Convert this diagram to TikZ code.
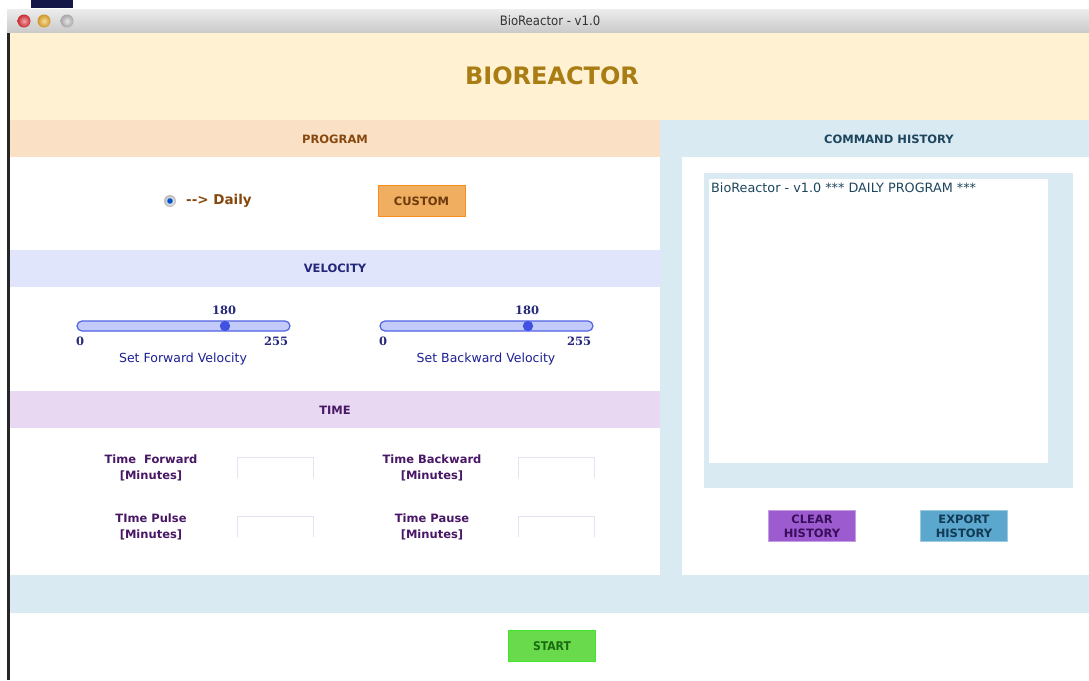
\documentclass[tikz,border=0pt]{standalone}
\usepackage{fontspec}
\setmainfont{DejaVu Sans}
\newfontfamily\numfont{DejaVu Serif}
\newfontfamily\barfont{DejaVu Sans Condensed}
\usetikzlibrary{positioning, shadings}
\definecolor{cBarTop}   {HTML}{EDEDED}
\definecolor{cBarBot}   {HTML}{C9C9C9}
\definecolor{cHeader}   {HTML}{FFF1D2}
\definecolor{cGold}     {HTML}{A97D14}
\definecolor{cProg}     {HTML}{FAE1C6}
\definecolor{cProgText} {HTML}{87480F}
\definecolor{cVel}      {HTML}{E1E5FC}
\definecolor{cVelText}  {HTML}{23277A}
\definecolor{cTime}     {HTML}{E8D8F2}
\definecolor{cTimeText} {HTML}{481765}
\definecolor{cHist}     {HTML}{DAEAF3}
\definecolor{cHistText} {HTML}{1D465E}
\definecolor{cCustom}   {HTML}{F0AE60}
\definecolor{cClear}    {HTML}{9C5CD0}
\definecolor{cClearText}{HTML}{3A0E5B}
\definecolor{cExport}   {HTML}{5BA7CD}
\definecolor{cExpText}  {HTML}{113A55}
\definecolor{cStart}    {HTML}{68DA4C}
\definecolor{cStartText}{HTML}{1C6A12}
\definecolor{cTrack}    {HTML}{C3CBFB}
\definecolor{cTrackLine}{HTML}{5263E6}
\definecolor{cThumb}    {HTML}{4152E2}
\definecolor{cFieldLine}{HTML}{E9E0F4}
\definecolor{cLightRed} {HTML}{E8343A}
\definecolor{cLightYel} {HTML}{F2B22C}
\definecolor{cLightGry} {HTML}{C4C4C4}
\tikzset{
  bandtitle/.style={font=\fontsize{11.5}{13}\selectfont\bfseries, inner sep=0pt},
  uibutton/.style={minimum width=87pt, minimum height=31pt, inner sep=0pt,
                   line width=0.8pt, align=center,
                   font=\fontsize{11.5}{14}\selectfont\bfseries},
  timelabel/.style={align=center, text=cTimeText, inner sep=0pt,
                    font=\fontsize{11.5}{16}\selectfont\bfseries},
  slidernum/.style={text=cVelText, inner sep=0pt,
                    font=\numfont\fontsize{11.5}{13}\selectfont\bfseries},
  slidercap/.style={text=cVelText!80!blue, inner sep=0pt,
                    font=\fontsize{12.5}{14}\selectfont},
  fieldline/.style={draw=cFieldLine, line width=0.8pt},
}
\begin{document}
\begin{tikzpicture}[x=1pt, y=-1pt]
  \useasboundingbox (0,0) rectangle (1089,680);
  \fill[white] (0,0) rectangle (1089,680);
  % window title bar
  \fill[cVelText!60!black] (31,0) rectangle (73,8);
  \shade[top color=cBarTop, bottom color=cBarBot] (7,9) rectangle (1089,33);
  \foreach \c/\xoff in {cLightRed/24, cLightYel/44, cLightGry/67}{
    \shade[inner color=\c!45!white, outer color=\c!85!black] (\xoff,21) circle (6.5);
  }
  \node[font=\barfont\fontsize{13}{15}\selectfont, text=black!80] (wintitle) at (550,21) {BioReactor - v1.0};
  \fill[black!85] (7,33) rectangle (10,680);
  % header
  \fill[cHeader] (10,33) rectangle (1089,120);
  \node[font=\fontsize{24}{28}\selectfont\bfseries, text=cGold] (apptitle) at (552,76) {BIOREACTOR};
  % program band
  \fill[cProg] (10,120) rectangle (660,157);
  \node[bandtitle, text=cProgText] (program) at (335,139) {PROGRAM};
  \shade[inner color=white, outer color=gray!55] (170,201) circle (6);
  \fill[blue!60!cyan!80!black] (170,201) circle (2.8);
  \node[font=\fontsize{13.5}{15}\selectfont\bfseries, text=cProgText, anchor=west, inner sep=0pt] (daily) at (186,201) {-{}-> Daily};
  \node[uibutton, fill=cCustom, draw=orange!70!cCustom, text=cProgText!80!black] (custom) at (421.5,201) {CUSTOM};
  % velocity band
  \fill[cVel] (10,250) rectangle (660,287);
  \node[bandtitle, text=cVelText] (velocity) at (335,268) {VELOCITY};
  \foreach \s/\xa/\dir in {fwd/77/Forward, bwd/380/Backward}{
    \draw[fill=cTrack, draw=cTrackLine, line width=1.2pt, rounded corners=5pt]
      (\xa,321) rectangle (\xa+213,331);
    \fill[cThumb] (\xa+148,326) circle (5.2);
    \node[slidernum] (val\s) at (\xa+147,310) {180};
    \node[slidernum] (min\s) at (\xa+3,341) {0};
    \node[slidernum] (max\s) at (\xa+199,341) {255};
    \node[slidercap] (cap\s) at (\xa+106,359) {Set \dir\ Velocity};
  }
  % time band
  \fill[cTime] (10,391) rectangle (660,428);
  \node[bandtitle, text=cTimeText] (time) at (335,410) {TIME};
  \foreach \f/\xl/\yl/\txt in {tfwd/151/459/{Time~~Forward}, tbwd/432/459/{Time Backward},
                               tpls/151/518/{TIme Pulse}, tpse/432/518/{Time Pause}}{
    \node[timelabel] (lbl\f) at (\xl,\yl+8.5) {\txt\\{}[Minutes]};
    \draw[fieldline] (\xl+86,\yl+19) -- (\xl+86,\yl-2) -- (\xl+162,\yl-2) -- (\xl+162,\yl+19);
  }
  % command history panel
  \fill[cHist] (660,120) rectangle (1089,575);
  \node[bandtitle, text=cHistText] (history) at (889,139) {COMMAND HISTORY};
  \fill[white] (682,157) rectangle (1089,575);
  \fill[cHist] (704,173) rectangle (1073,488);
  \fill[white] (709,179) rectangle (1048,463);
  \node[font=\fontsize{12.8}{14}\selectfont, text=cHistText, anchor=west, inner sep=0pt] (log) at (711,188) {BioReactor - v1.0 *** DAILY PROGRAM ***};
  \node[uibutton, fill=cClear, draw=cClear!60!white, text=cClearText] (clear) at (812,526) {CLEAR\\HISTORY};
  \node[uibutton, fill=cExport, draw=cExport!60!white, text=cExpText] (export) at (964,526) {EXPORT\\HISTORY};
  % footer
  \fill[cHist] (10,575) rectangle (1089,613);
  \node[uibutton, fill=cStart, draw=cStart!60!green, text=cStartText, font=\barfont\fontsize{12}{14}\selectfont\bfseries] (start) at (552,646) {START};
\end{tikzpicture}
\end{document}
